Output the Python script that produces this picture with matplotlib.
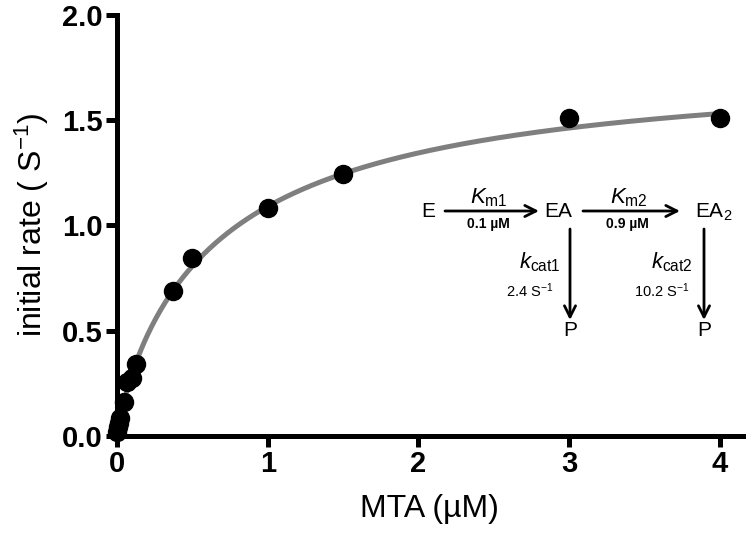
import matplotlib
matplotlib.use("Agg")
import matplotlib.pyplot as plt
import numpy as np

plt.rcParams['font.family'] = ['Liberation Sans', 'DejaVu Sans']
plt.rcParams['mathtext.fontset'] = 'custom'
plt.rcParams['mathtext.rm'] = 'Liberation Sans'
plt.rcParams['mathtext.it'] = 'Liberation Sans:italic'
plt.rcParams['mathtext.bf'] = 'Liberation Sans:bold'

# measured initial rates
mta = [0.0, 0.005, 0.01, 0.02, 0.045, 0.066, 0.10, 0.126, 0.37, 0.50, 1.0, 1.5, 3.0, 4.0]
rate = [0.02, 0.04, 0.06, 0.085, 0.16, 0.257, 0.276, 0.342, 0.69, 0.845, 1.085, 1.245, 1.51, 1.51]

# fitted two-step model parameters (from the scheme)
km1, km2 = 0.1, 0.9
kcat1, kcat2 = 2.4, 10.2
e_tot = 0.1755

s = np.linspace(0, 4, 400)
a1 = s / km1
a2 = s**2 / (km1 * km2)
fit = e_tot * (kcat1 * a1 + kcat2 * a2) / (1 + a1 + a2)

fig = plt.figure(figsize=(7.5, 5.36), dpi=100)
ax = fig.add_axes([0.156, 0.187, 0.834, 0.785])

ax.plot(s, fit, color='#7f7f7f', lw=3.6, zorder=2)
ax.plot(mta, rate, 'o', color='black', ms=13, clip_on=False, zorder=3)

ax.set_xlim(0, 4.15)
ax.set_ylim(0, 2.0)
ax.set_xticks([0, 1, 2, 3, 4])
ax.set_yticks([0.0, 0.5, 1.0, 1.5, 2.0])
ax.set_yticklabels(['0.0', '0.5', '1.0', '1.5', '2.0'])
for side in ['top', 'right']:
    ax.spines[side].set_visible(False)
for side in ['left', 'bottom']:
    ax.spines[side].set_linewidth(3.6)
ax.tick_params(width=3.6, length=8, labelsize=21, pad=2)
for lab in ax.get_xticklabels() + ax.get_yticklabels():
    lab.set_fontweight('bold')

ax.set_xlabel('MTA (µM)', fontsize=23, labelpad=12)
ax.set_ylabel('initial rate ( S$^{-1}$)', fontsize=23, labelpad=8)

# reaction scheme
def fx(px):
    return px / 750.0

def fy(py):
    return 1 - py / 536.0

arrow = dict(arrowstyle='->', lw=2.0, color='black', mutation_scale=20,
             shrinkA=0, shrinkB=0)
t = fig.transFigure
fig.text(fx(428), fy(212), 'E', fontsize=15, ha='center', va='center')
fig.text(fx(558), fy(212), 'EA', fontsize=15, ha='center', va='center')
fig.text(fx(714), fy(212), 'EA$_2$', fontsize=15, ha='center', va='center')
ax.annotate('', xy=(fx(539), fy(211)), xytext=(fx(445), fy(211)),
            xycoords=t, textcoords=t, arrowprops=arrow)
ax.annotate('', xy=(fx(680), fy(211)), xytext=(fx(583), fy(211)),
            xycoords=t, textcoords=t, arrowprops=arrow)
fig.text(fx(489), fy(198), r'$\mathit{K}_{\mathrm{m1}}$', fontsize=16, ha='center', va='center')
fig.text(fx(629), fy(198), r'$\mathit{K}_{\mathrm{m2}}$', fontsize=16, ha='center', va='center')
fig.text(fx(488), fy(224), '0.1 µM', fontsize=10, fontweight='bold', ha='center', va='center')
fig.text(fx(627), fy(224), '0.9 µM', fontsize=10, fontweight='bold', ha='center', va='center')

ax.annotate('', xy=(fx(570), fy(320)), xytext=(fx(570), fy(229)),
            xycoords=t, textcoords=t, arrowprops=arrow)
ax.annotate('', xy=(fx(704), fy(320)), xytext=(fx(704), fy(229)),
            xycoords=t, textcoords=t, arrowprops=arrow)
fig.text(fx(540), fy(262), r'$\mathit{k}_{\mathrm{cat1}}$', fontsize=16, ha='center', va='center')
fig.text(fx(672), fy(262), r'$\mathit{k}_{\mathrm{cat2}}$', fontsize=16, ha='center', va='center')
fig.text(fx(530), fy(291), r'2.4 S$^{-1}$', fontsize=10.5, ha='center', va='center')
fig.text(fx(662), fy(291), r'10.2 S$^{-1}$', fontsize=10.5, ha='center', va='center')
fig.text(fx(570), fy(331), 'P', fontsize=15, ha='center', va='center')
fig.text(fx(704), fy(331), 'P', fontsize=15, ha='center', va='center')

fig.savefig('out.png', dpi=100)
